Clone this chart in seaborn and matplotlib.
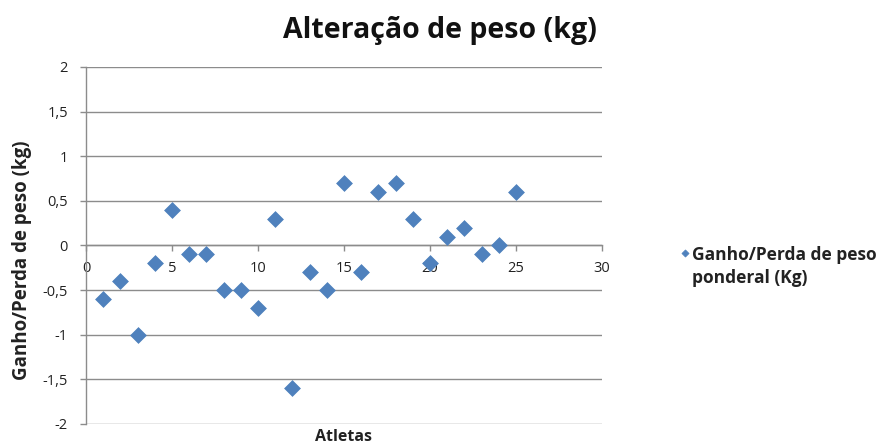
import matplotlib
matplotlib.use("Agg")
import matplotlib.pyplot as plt
import matplotlib.ticker as mticker
import seaborn as sns
import pandas as pd

atletas = list(range(1, 26))
variacao = [-0.6, -0.4, -1.0, -0.2, 0.4, -0.1, -0.1, -0.5, -0.5, -0.7,
            0.3, -1.6, -0.3, -0.5, 0.7, -0.3, 0.6, 0.7, 0.3, -0.2,
            0.1, 0.2, -0.1, 0.0, 0.6]
serie = "Ganho/Perda de peso\nponderal (Kg)"
titulo = "Alteração de peso (kg)"
xlabel = "Atletas"
ylabel = "Ganho/Perda de peso (kg)"

df = pd.DataFrame({"Atletas": atletas, "Valor": variacao})

sns.set_theme(style="white")
plt.rcParams["font.family"] = ["Open Sans", "DejaVu Sans"]

fig = plt.figure(figsize=(8.86, 4.48), dpi=100)
ax = fig.add_axes([0.0971, 0.0536, 0.5824, 0.7969])

sns.scatterplot(data=df, x="Atletas", y="Valor", marker="D", s=65,
                color="#4F81BD", edgecolor="#4F81BD", linewidth=0.5,
                ax=ax, label=serie, zorder=3)

ax.set_xlim(0, 30)
ax.set_ylim(-2, 2)
ax.xaxis.set_major_locator(mticker.MultipleLocator(5))
ax.yaxis.set_major_locator(mticker.MultipleLocator(0.5))
fmt = mticker.FuncFormatter(lambda v, p: (f"{v:g}").replace(".", ","))
ax.yaxis.set_major_formatter(fmt)
ax.xaxis.set_major_formatter(mticker.FuncFormatter(lambda v, p: f"{v:g}"))

ax.grid(axis="y", color="#8c8c8c", linewidth=1.0)
ax.grid(axis="x", visible=False)
ax.set_axisbelow(True)

for s in ["top", "right"]:
    ax.spines[s].set_visible(False)
ax.spines["left"].set_color("#8c8c8c")
ax.spines["left"].set_linewidth(1.0)
ax.spines["bottom"].set_position(("data", 0))
ax.spines["bottom"].set_color("#8c8c8c")
ax.spines["bottom"].set_linewidth(1.0)

ax.tick_params(axis="y", left=True, length=4, width=1, color="#8c8c8c",
               labelsize=10.5, pad=9, labelcolor="#222222")
ax.tick_params(axis="x", bottom=True, length=4, width=1, color="#8c8c8c",
               labelsize=10.5, pad=7, labelcolor="#222222")

ax.set_xlabel(xlabel, fontsize=11.5, fontweight="bold", color="#222222", va="center")
ax.xaxis.set_label_coords(0.498, -0.036)
ax.set_ylabel(ylabel, fontsize=13.5, fontweight="bold", color="#222222", va="center")
ax.yaxis.set_label_coords(-0.125, 0.46)

fig.text(0.4966, 0.933, titulo, ha="center", va="center", fontsize=20.5,
         fontweight="bold", color="#111111")

leg = ax.legend(loc="center left", bbox_to_anchor=(1.12, 0.44), frameon=False,
                prop={"size": 12.5, "weight": "bold"}, handletextpad=0.1,
                markerscale=0.45, handlelength=0.6, scatteryoffsets=[1.75])
for t in leg.get_texts():
    t.set_color("#222222")
    t.set_linespacing(1.35)

fig.savefig("out.png", dpi=100)
